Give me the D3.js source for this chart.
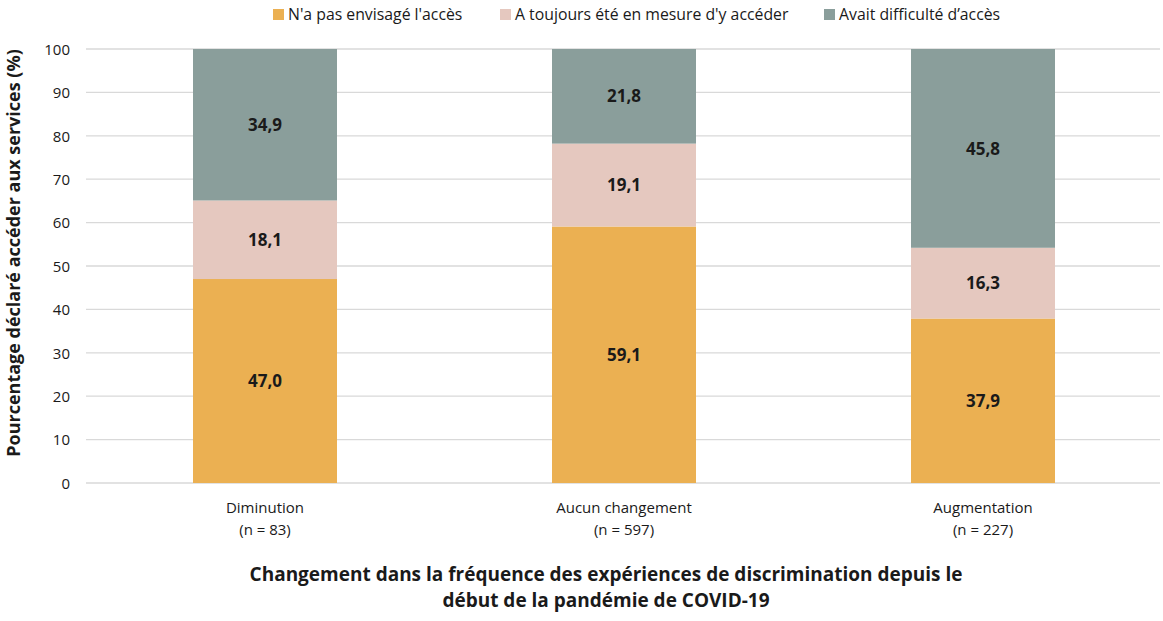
<!DOCTYPE html>
<html>
<head>
<meta charset="utf-8">
<script src="https://cdn.jsdelivr.net/npm/d3@7"></script>
<style>
  body { margin:0; background:#fff; }
  text { font-family:'Open Sans', sans-serif; fill:#1a1a1a; }
</style>
</head>
<body>
<svg id="svg" width="1163" height="621"></svg>
<script>
var categories = ['Diminution', 'Aucun changement', 'Augmentation'];
var counts = ['(n = 83)', '(n = 597)', '(n = 227)'];
var series = ["N'a pas envisagé l'accès", "A toujours été en mesure d'y accéder", "Avait difficulté d’accès"];
var colors = ['#ebb052', '#e5c8bf', '#8a9e9b'];
var pasEnvisage = [47.0, 59.1, 37.9];
var toujours = [18.1, 19.1, 16.3];
var difficulte = [34.9, 21.8, 45.8];
var yTicks = [0, 10, 20, 30, 40, 50, 60, 70, 80, 90, 100];

var svg = d3.select('#svg');
var x = d3.scaleBand().domain(categories).range([85.5, 1162.5]).paddingInner(0.6).paddingOuter(0.3);
var y = d3.scaleLinear().domain([0, 100]).range([483, 49]);

// gridlines
svg.append('g').selectAll('line').data(yTicks).enter().append('line')
    .attr('x1', 86).attr('x2', 1160)
    .attr('y1', function(d){ return y(d); }).attr('y2', function(d){ return y(d); })
    .attr('stroke', '#d9d9d9').attr('stroke-width', 1.3);

var yAxis = svg.append('g').attr('transform', 'translate(70,0)')
    .call(d3.axisLeft(y).tickValues(yTicks).tickSize(0).tickPadding(0));
yAxis.select('.domain').remove();
yAxis.selectAll('text').style('font-size', '15px').attr('fill', '#1a1a1a').attr('dy', '0.35em');

var rows = categories.map(function(c, i){
    return {cat: c, s0: pasEnvisage[i], s1: toujours[i], s2: difficulte[i]};
});
var stack = d3.stack().keys(['s0', 's1', 's2'])(rows);

var bw = 144;
stack.forEach(function(layer, k){
    var g = svg.append('g');
    g.selectAll('rect').data(layer).enter().append('rect')
        .attr('x', function(d){ return x(d.data.cat) + x.bandwidth()/2 - bw/2; })
        .attr('width', bw)
        .attr('y', function(d){ return y(d[1]); })
        .attr('height', function(d){ return y(d[0]) - y(d[1]); })
        .attr('fill', colors[k]);
    g.selectAll('text').data(layer).enter().append('text')
        .attr('x', function(d){ return x(d.data.cat) + x.bandwidth()/2; })
        .attr('y', function(d){ return y((d[0] + d[1]) / 2); })
        .attr('dy', '0.36em')
        .attr('text-anchor', 'middle')
        .style('font-size', '17px').style('font-weight', 'bold')
        .text(function(d){ return (d[1] - d[0]).toFixed(1).replace('.', ','); });
});

// category labels
var xl = svg.append('g');
categories.forEach(function(c, i){
    var cx = x(c) + x.bandwidth()/2;
    xl.append('text').attr('x', cx).attr('y', 513).attr('text-anchor', 'middle')
        .style('font-size', '15px').text(c);
    xl.append('text').attr('x', cx).attr('y', 535).attr('text-anchor', 'middle')
        .style('font-size', '15px').text(counts[i]);
});

// axis titles
svg.append('text').attr('transform', 'translate(20,253) rotate(-90)')
    .attr('text-anchor', 'middle').style('font-size', '18px').style('font-weight', 'bold')
    .text('Pourcentage déclaré accéder aux services (%)');
svg.append('text').attr('x', 606).attr('y', 581).attr('text-anchor', 'middle')
    .style('font-size', '19px').style('font-weight', 'bold')
    .text('Changement dans la fréquence des expériences de discrimination depuis le');
svg.append('text').attr('x', 606).attr('y', 607).attr('text-anchor', 'middle')
    .style('font-size', '19px').style('font-weight', 'bold')
    .text('début de la pandémie de COVID-19');

// legend
var legX = [273, 500, 824];
series.forEach(function(s, i){
    svg.append('rect').attr('x', legX[i]).attr('y', 9).attr('width', 11).attr('height', 11).attr('fill', colors[i]);
    svg.append('text').attr('x', legX[i] + 15).attr('y', 20).style('font-size', '15.8px').text(s);
});
</script>
</body>
</html>
